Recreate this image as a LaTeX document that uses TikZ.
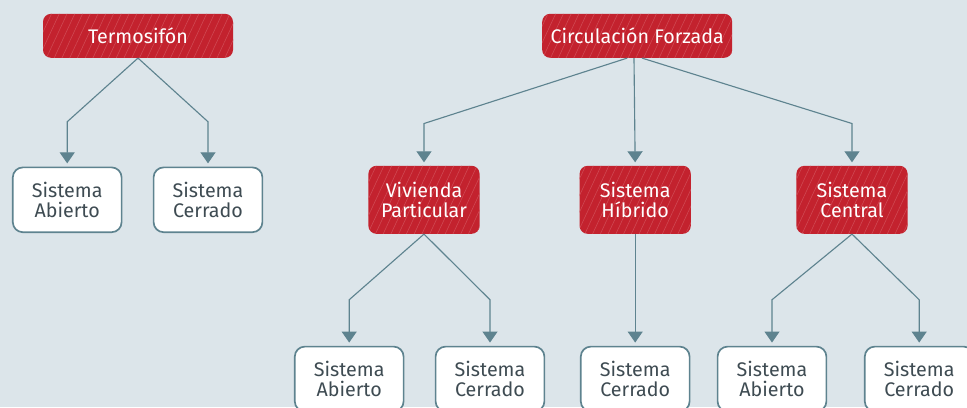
\documentclass[tikz,border=0pt]{standalone}
\usepackage{fontspec}
\setmainfont{Fira Sans}
\usetikzlibrary{arrows.meta,patterns.meta}

\definecolor{boxred}{HTML}{C3222E}
\definecolor{hatchred}{HTML}{D04A54}
\definecolor{linkgray}{HTML}{5E838F}
\definecolor{textgray}{HTML}{3E4B52}
\definecolor{backblue}{HTML}{DCE5EA}

\tikzset{
	redbox/.style	= {rectangle, rounded corners=0.2cm, preaction={fill=boxred},
			   pattern={Lines[angle=65,distance=5pt,line width=0.4pt]}, pattern color=hatchred,
			   text=white, align=center, inner sep=0pt, font=\fontsize{14}{14.5}\selectfont},
	topbox/.style	= {redbox, minimum width=4.75cm, minimum height=1.1cm},
	midbox/.style	= {redbox, minimum width=2.78cm, minimum height=1.7cm},
	leafbox/.style	= {rectangle, rounded corners=0.25cm, draw=linkgray, line width=1.2pt, fill=white,
			   text=textgray, align=center, inner sep=0pt, minimum width=2.72cm, minimum height=1.62cm,
			   font=\fontsize{14}{14.5}\selectfont},
	link/.style	= {draw=linkgray, line width=0.8pt, -{Triangle[width=0.375cm,length=0.275cm]}, shorten >=0.08cm}
}

\begin{document}
\begin{tikzpicture}
	\clip (0,0) rectangle (24.175,10.175);
	\fill[backblue] (0,0) rectangle (24.175,10.175);

	\node (TS)  at ( 3.45, 9.28)	[topbox]	{Termosifón};
	\node (CF)  at (15.93, 9.28)	[topbox]	{Circulación Forzada};

	\node (SA1) at ( 1.68, 5.18)	[leafbox]	{Sistema\\Abierto};
	\node (SC1) at ( 5.20, 5.18)	[leafbox]	{Sistema\\Cerrado};
	\node (VP)  at (10.60, 5.18)	[midbox]	{Vivienda\\Particular};
	\node (SH)  at (15.88, 5.18)	[midbox]	{Sistema\\Híbrido};
	\node (SCe) at (21.30, 5.18)	[midbox]	{Sistema\\Central};

	\node (SA2) at ( 8.73, 0.70)	[leafbox]	{Sistema\\Abierto};
	\node (SC2) at (12.25, 0.70)	[leafbox]	{Sistema\\Cerrado};
	\node (SC3) at (15.88, 0.70)	[leafbox]	{Sistema\\Cerrado};
	\node (SA4) at (19.30, 0.70)	[leafbox]	{Sistema\\Abierto};
	\node (SC4) at (22.98, 0.70)	[leafbox]	{Sistema\\Cerrado};

	\draw[link] (TS.south) -- ([yshift=1.12cm]SA1.north) -- (SA1.north);
	\draw[link] (TS.south) -- ([yshift=1.12cm]SC1.north) -- (SC1.north);

	\draw[link] ([xshift=-0.25cm]CF.south) -- ([yshift=1.05cm]VP.north) -- (VP.north);
	\draw[link] ([xshift=-0.08cm]CF.south) -- (SH.north);
	\draw[link] ([xshift= 0.12cm]CF.south) -- ([yshift=1.05cm]SCe.north) -- (SCe.north);

	\draw[link] (VP.south) -- ([yshift=1.15cm]SA2.north) -- (SA2.north);
	\draw[link] (VP.south) -- ([yshift=1.15cm]SC2.north) -- (SC2.north);
	\draw[link] (SH.south) -- (SC3.north);
	\draw[link] (SCe.south) -- ([yshift=1.15cm]SA4.north) -- (SA4.north);
	\draw[link] (SCe.south) -- ([yshift=1.15cm]SC4.north) -- (SC4.north);
\end{tikzpicture}
\end{document}
